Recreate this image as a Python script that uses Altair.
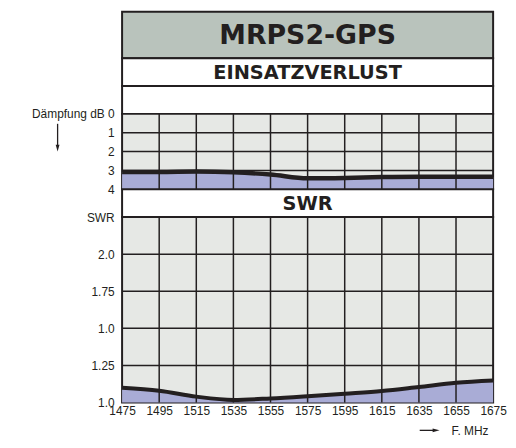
import altair as alt
import pandas as pd

# ---- data ----
freq = [1475, 1495, 1515, 1535, 1555, 1575, 1595, 1615, 1635, 1655, 1675]
loss_db = [3.08, 3.08, 3.06, 3.10, 3.22, 3.42, 3.40, 3.35, 3.33, 3.33, 3.33]
swr = [1.10, 1.08, 1.04, 1.018, 1.028, 1.043, 1.06, 1.078, 1.105, 1.133, 1.148]

loss_ticks = [0, 1, 2, 3, 4]
loss_labels = ["Dämpfung dB 0", "1", "2", "3", "4"]
swr_ticks = [1.0, 1.25, 1.5, 1.75, 2.0, 2.25]
swr_labels = ["1.0", "1.25", "1.0", "1.75", "2.0", "SWR"]

title_text = "MRPS2-GPS"
section1 = "EINSATZVERLUST"
section2 = "SWR"
x_title = "F. MHz"

INK = "#231f20"
HEAD = "#b9c3bc"
PLOTBG = "#e6e8e5"
FILL = "#a9acd6"
FONT = "Liberation Sans"
BOLD = "DejaVu Sans"
W = 374

df = pd.DataFrame({"f": freq, "loss": loss_db, "swr": swr})
xscale = alt.Scale(domain=[freq[0], freq[-1]], nice=False, zero=False)
inner_f = pd.DataFrame({"f": freq[1:-1]})


def band(text, h, fill, size):
    return alt.Chart(alt.Data(values=[{"t": text}])).mark_text(
        font=BOLD, fontSize=size, fontWeight="bold", color=INK,
        align="center", baseline="middle"
    ).encode(
        text="t:N", x=alt.value(W / 2), y=alt.value(h / 2 + 1)
    ).properties(width=W, height=h,
                 view=alt.ViewBackground(fill=fill, stroke=INK, strokeWidth=2))


head = band(title_text, 47, HEAD, 27)
sec1 = band(section1, 28, "white", 19.5)
gap = band("", 28, "white", 12)
sec2 = band(section2, 28, "white", 19.5)

# ---- insertion loss panel ----
yB = alt.Scale(domain=[0, 4], reverse=True, nice=False, zero=False)
labB = "[" + ",".join("'%s'" % s for s in loss_labels) + "][datum.value]"
axB = alt.Axis(values=loss_ticks, labelExpr=labB, title=None, labelPadding=8)

areaB = alt.Chart(df).mark_area(color=FILL, interpolate="monotone").encode(
    x=alt.X("f:Q", scale=xscale, axis=None),
    y=alt.Y("loss:Q", scale=yB, axis=axB),
    y2=alt.datum(4),
)
vgridB = alt.Chart(inner_f).mark_rule(color=INK, strokeWidth=1.5).encode(
    x=alt.X("f:Q", scale=xscale, axis=None))
hgridB = alt.Chart(pd.DataFrame({"v": loss_ticks[1:-1]})).mark_rule(
    color=INK, strokeWidth=1.5).encode(y=alt.Y("v:Q", scale=yB, axis=axB))
lineB = alt.Chart(df).mark_line(color=INK, strokeWidth=4.5, interpolate="monotone").encode(
    x=alt.X("f:Q", scale=xscale, axis=None),
    y=alt.Y("loss:Q", scale=yB, axis=axB),
)
arrowL = alt.Chart(alt.Data(values=[{}])).mark_rule(color=INK, strokeWidth=1.3).encode(
    x=alt.value(-65), y=alt.value(10), y2=alt.value(33))
arrowLh = alt.Chart(alt.Data(values=[{}])).mark_point(
    shape="M-0.55,-1L0,1L0.55,-1Z", filled=True, size=49, color=INK, opacity=1,
    strokeWidth=0).encode(x=alt.value(-65), y=alt.value(34.5))

panelB = alt.layer(areaB, vgridB, hgridB, lineB, arrowL, arrowLh).properties(
    width=W, height=76, view=alt.ViewBackground(fill=PLOTBG, stroke=INK, strokeWidth=2))

# ---- SWR panel ----
yD = alt.Scale(domain=[swr_ticks[0], swr_ticks[-1]], nice=False, zero=False)
labD = "[" + ",".join("'%s'" % s for s in swr_labels) + "][round((datum.value-1)*4)]"
axD = alt.Axis(values=swr_ticks, labelExpr=labD, title=None, labelPadding=8)
axX = alt.Axis(values=freq, title=None, labelPadding=3, labelFlush=False,
               labelOverlap=False, format="d")

areaD = alt.Chart(df).mark_area(color=FILL, interpolate="monotone").encode(
    x=alt.X("f:Q", scale=xscale, axis=axX),
    y=alt.Y("swr:Q", scale=yD, axis=axD),
    y2=alt.datum(1.0),
)
vgridD = alt.Chart(inner_f).mark_rule(color=INK, strokeWidth=1.5).encode(
    x=alt.X("f:Q", scale=xscale, axis=axX))
hgridD = alt.Chart(pd.DataFrame({"v": swr_ticks[1:-1]})).mark_rule(
    color=INK, strokeWidth=1.5).encode(y=alt.Y("v:Q", scale=yD, axis=axD))
lineD = alt.Chart(df).mark_line(color=INK, strokeWidth=4, interpolate="monotone").encode(
    x=alt.X("f:Q", scale=xscale, axis=axX),
    y=alt.Y("swr:Q", scale=yD, axis=axD),
)
arrowR = alt.Chart(alt.Data(values=[{}])).mark_rule(color=INK, strokeWidth=1.3).encode(
    x=alt.value(300), x2=alt.value(315), y=alt.value(215))
arrowRh = alt.Chart(alt.Data(values=[{}])).mark_point(
    shape="M-1,-0.55L1,0L-1,0.55Z", filled=True, size=49, color=INK, opacity=1,
    strokeWidth=0).encode(x=alt.value(316.5), y=alt.value(215))
xlab = alt.Chart(alt.Data(values=[{"t": x_title}])).mark_text(
    font=FONT, fontSize=12, color=INK, align="left", baseline="middle").encode(
    text="t:N", x=alt.value(332), y=alt.value(216))

panelD = alt.layer(areaD, vgridD, hgridD, lineD, arrowR, arrowRh, xlab).properties(
    width=W, height=187, view=alt.ViewBackground(fill=PLOTBG, stroke=INK, strokeWidth=2))

chart = alt.vconcat(head, sec1, gap, panelB, sec2, panelD, spacing=0, bounds="flush").properties(
    padding={"left": 22, "top": 1, "right": 0, "bottom": 0},
    background="white",
).configure_axis(
    labelFont=FONT, labelFontSize=12, labelColor=INK,
    domain=False, ticks=False, grid=False,
)

chart.save("out.html", embed_options={"renderer": "svg", "actions": False})
